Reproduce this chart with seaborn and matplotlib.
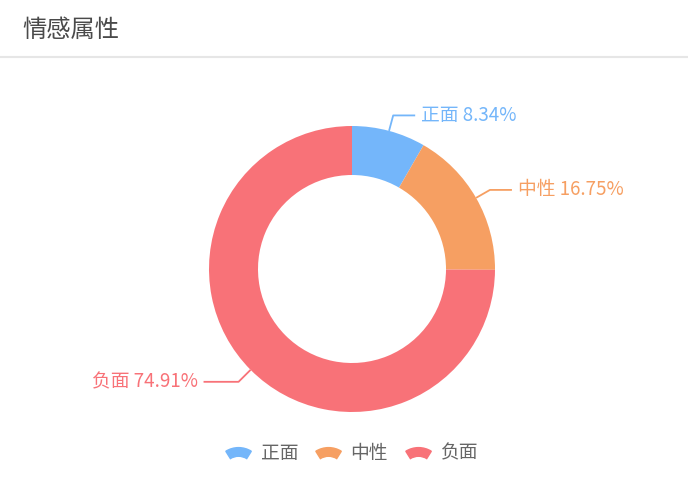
"""Donut chart of sentiment shares (情感属性)."""

import numpy as np
import seaborn as sns
import matplotlib.pyplot as plt
from matplotlib.patches import Wedge
from matplotlib.lines import Line2D
from matplotlib.legend_handler import HandlerPatch

###################################################################################################
###################################################################################################

categories = ['正面', '中性', '负面']
shares = [8.34, 16.75, 74.91]
colors = ['#74b6fa', '#f69f62', '#f87278']
title = '情感属性'

sns.set_theme(style='white')
plt.rcParams['font.family'] = ['Noto Sans CJK SC', 'DejaVu Sans']

W, H = 688, 483
fig = plt.figure(figsize=[W / 100, H / 100], dpi=100)
ax = fig.add_axes([0, 0, 1, 1])

# Work in pixel units, y measured from the bottom
cx, cy = 352, 214
r_out, r_in = 143, 94

wedges, _ = ax.pie(shares, colors=colors, startangle=90, counterclock=False,
                   center=(cx, cy), radius=r_out,
                   wedgeprops=dict(width=r_out - r_in, linewidth=0))

ax.set_xlim(0, W)
ax.set_ylim(0, H)
ax.set_aspect('equal')
ax.axis('off')

# Leader lines & labels
for wdg, cat, val, col in zip(wedges, categories, shares, colors):
    ang = np.deg2rad((wdg.theta1 + wdg.theta2) / 2)
    side = 1 if np.cos(ang) >= 0 else -1
    r_elbow = 159 if side > 0 else 160
    length = 22 if side > 0 else 35
    x0, y0 = cx + r_out * np.cos(ang), cy + r_out * np.sin(ang)
    x1, y1 = cx + r_elbow * np.cos(ang), cy + r_elbow * np.sin(ang)
    x2 = x1 + side * length
    ax.plot([x0, x1, x2], [y0, y1, y1], color=col, lw=1.3, solid_capstyle='butt')
    ax.text(x2 + side * 6, y1, '{} {:.2f}%'.format(cat, val), color=col, fontsize=13.5,
            ha='left' if side > 0 else 'right', va='center')

# Title & separator
fig.text(22 / W, 1 - 30 / H, title, fontsize=17.5, color='#4a4a4a', ha='left', va='center')
fig.add_artist(Line2D([0, 1], [1 - 57 / H, 1 - 57 / H], color='#e6e6e6', lw=1.5,
                      transform=fig.transFigure))

# Legend with fan-shaped keys
def make_fan(legend, orig_handle, xdescent, ydescent, width, height, fontsize):
    rad = width * 0.95
    return Wedge((width / 2 - xdescent, height / 2 - ydescent - rad * 0.82), rad, 58, 122,
                 width=rad * 0.36)

handles = [Wedge((0, 0), 1, 0, 60, color=col) for col in colors]
ax.legend(handles, categories, loc='center', bbox_to_anchor=(352 / W, 30 / H),
          ncol=3, frameon=False, fontsize=13.5, labelcolor='#666666',
          handlelength=1.35, handletextpad=0.5, columnspacing=0.95,
          handler_map={Wedge: HandlerPatch(patch_func=make_fan)})

plt.savefig('out.png', dpi=100)
